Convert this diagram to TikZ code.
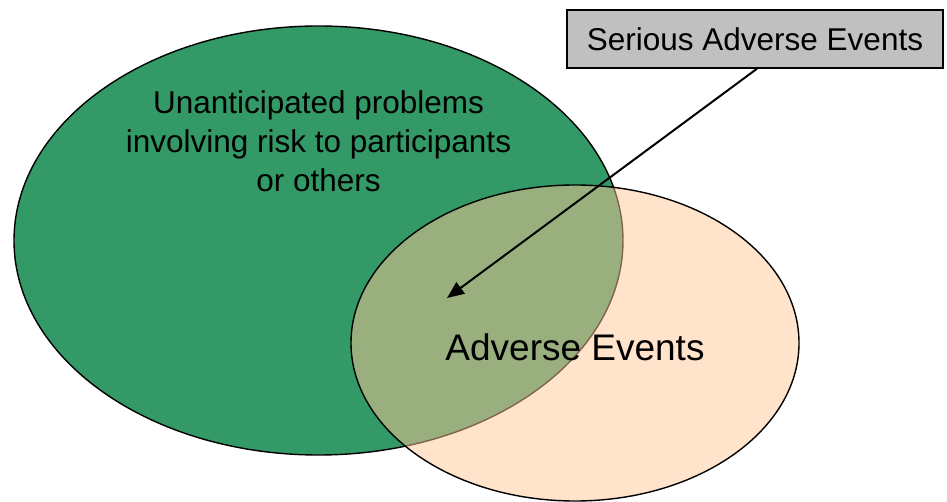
\documentclass[tikz,border=0pt]{standalone}
\usepackage{fontspec}
\setmainfont{Liberation Sans}
\usetikzlibrary{arrows.meta}
\definecolor{greenfill}{RGB}{51,153,102}
\definecolor{peachfill}{RGB}{255,200,150}
\definecolor{boxgray}{RGB}{192,192,192}
\begin{document}
\begin{tikzpicture}[x=1pt,y=-1pt,
  blob/.style={draw=black,line width=1.4pt,ellipse},
  labelbox/.style={draw=black,line width=1.4pt,fill=boxgray,inner sep=0pt},
  pointer/.style={line width=2pt,-{Triangle[length=17pt,width=14pt]}}]
\useasboundingbox (0,0) rectangle (947,502);
\fill[white] (0,0) rectangle (947,502);
\draw[line width=1.4pt,fill=greenfill] (318.5,240.5) ellipse [x radius=304.5,y radius=214.5];
\draw[line width=1.4pt,fill=peachfill,fill opacity=0.5] (575,343) ellipse [x radius=224,y radius=158];
\node (up) at (318.5,141) [align=center,font=\fontsize{31.5}{39}\selectfont] {Unanticipated problems\\involving risk to participants\\or others};
\node (ae) at (575,347) [font=\fontsize{37}{44}\selectfont] {Adverse Events};
\node (sae) [labelbox,minimum width=376pt,minimum height=58pt,font=\fontsize{31.5}{39}\selectfont] at (755,39) {Serious Adverse Events};
\coordinate (tip) at (447,298);
\draw[pointer] (sae.south) ++(2,0) coordinate (st) -- (tip);
\end{tikzpicture}
\end{document}
